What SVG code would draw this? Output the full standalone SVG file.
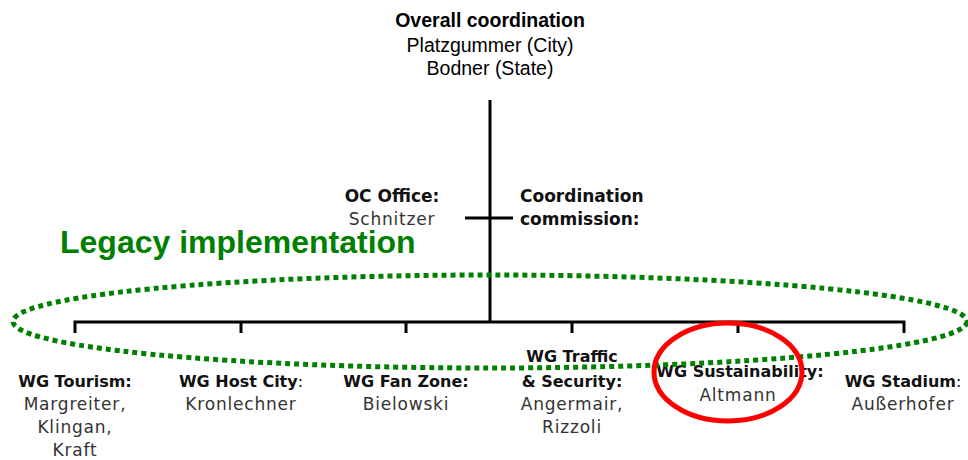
<svg xmlns="http://www.w3.org/2000/svg" width="968" height="460" viewBox="0 0 968 460">
<style>
.top{font-family:"Liberation Sans",Arial,sans-serif;font-size:19.5px;fill:#000;text-anchor:middle}
.b{font-weight:bold}
.h{font-family:"DejaVu Sans",sans-serif;font-size:16px;font-weight:bold;fill:#111;text-anchor:middle}
.h17{font-family:"DejaVu Sans",sans-serif;font-size:17px;font-weight:bold;fill:#111}
.n{font-family:"DejaVu Sans",sans-serif;font-size:17px;fill:#333;text-anchor:middle;letter-spacing:0.8px}
.nw{font-weight:normal}
.ln{stroke:#000;stroke-width:3;fill:none}
</style>
<rect width="968" height="460" fill="#fff"/>
<g id="connectors">
<line class="ln" x1="490" y1="100" x2="490" y2="323"/>
<line class="ln" x1="465" y1="218" x2="513" y2="218"/>
<polyline class="ln" points="75,333 75,322 904,322 904,333"/>
<line class="ln" x1="241" y1="322" x2="241" y2="333"/>
<line class="ln" x1="406" y1="322" x2="406" y2="333"/>
<line class="ln" x1="572" y1="322" x2="572" y2="333"/>
<line class="ln" x1="738" y1="322" x2="738" y2="333"/>
</g>
<g id="overall">
<text class="top b" x="490" y="27">Overall coordination</text>
<text class="top" x="490" y="52">Platzgummer (City)</text>
<text class="top" x="490" y="75">Bodner (State)</text>
</g>
<g id="oc-office">
<text class="h17" x="392" y="202" text-anchor="middle">OC Office:</text>
<text class="n" x="392" y="225">Schnitzer</text>
</g>
<g id="coord-commission">
<text class="h17" x="520" y="202">Coordination</text>
<text class="h17" x="520" y="225">commission:</text>
</g>
<text id="legacy" x="60" y="253" font-family="Liberation Sans,Arial,sans-serif" font-size="32px" font-weight="bold" fill="#008000">Legacy implementation</text>
<g id="wg-tourism">
<text class="h" x="75" y="387">WG Tourism:</text>
<text class="n" x="75" y="410">Margreiter,</text>
<text class="n" x="75" y="433">Klingan,</text>
<text class="n" x="75" y="456">Kraft</text>
</g>
<g id="wg-hostcity">
<text class="h" x="241" y="387">WG Host City<tspan class="nw">:</tspan></text>
<text class="n" x="241" y="410">Kronlechner</text>
</g>
<g id="wg-fanzone">
<text class="h" x="406" y="387">WG Fan Zone:</text>
<text class="n" x="406" y="410">Bielowski</text>
</g>
<g id="wg-traffic">
<text class="h" x="572" y="362">WG Traffic</text>
<text class="h" x="572" y="387">&amp; Security:</text>
<text class="n" x="572" y="410">Angermair,</text>
<text class="n" x="572" y="433">Rizzoli</text>
</g>
<g id="wg-sustainability">
<text class="h" x="740" y="377">WG Sustainability:</text>
<text class="n" x="738" y="401">Altmann</text>
</g>
<g id="wg-stadium">
<text class="h" x="903" y="387">WG Stadium<tspan class="nw">:</tspan></text>
<text class="n" x="903" y="410">Außerhofer</text>
</g>
<ellipse id="legacy-ellipse" cx="490" cy="321.5" rx="477" ry="46.5" fill="none" stroke="#008000" stroke-width="5" stroke-dasharray="5 4"/>
<ellipse id="highlight" cx="728" cy="372" rx="74" ry="49" fill="none" stroke="#ff0000" stroke-width="5"/>
</svg>
